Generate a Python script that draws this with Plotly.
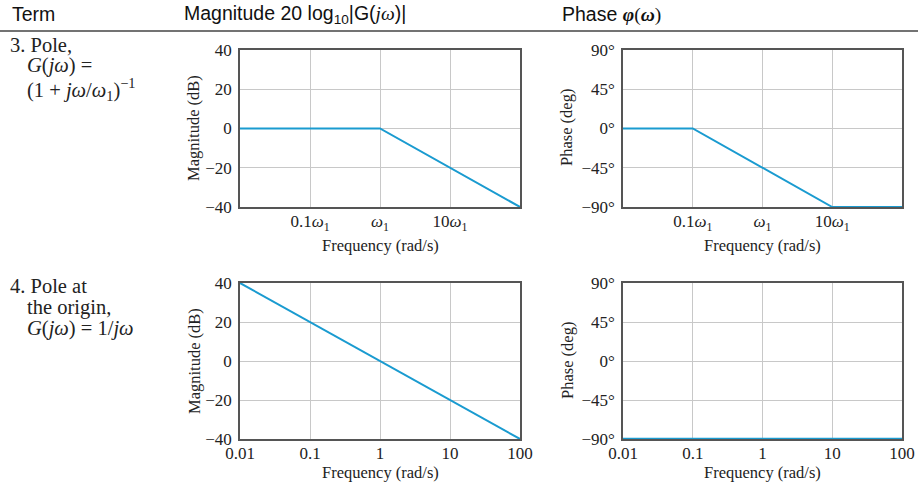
import plotly.graph_objects as go

# Bode asymptotes for two terms
freq_pole = [0.01, 1, 100]
mag_pole = [0, 0, -40]
freq_pole_ph = [0.01, 0.1, 10, 100]
phase_pole = [0, 0, -90, -90]

freq_origin = [0.01, 100]
mag_origin = [40, -40]
phase_origin = [-90, -90]

mag_ticks = [40, 20, 0, -20, -40]
mag_labels = ["40", "20", "0", "\u221220", "\u221240"]
phase_ticks = [90, 45, 0, -45, -90]
phase_labels = ["90°", "45°", "0°", "\u221245°", "\u221290°"]

freq_ticks_w1 = [0.1, 1, 10]
freq_labels_w1 = ["0.1<i>ω</i><sub>1</sub>", "<i>ω</i><sub>1</sub>", "10<i>ω</i><sub>1</sub>"]
freq_ticks = [0.01, 0.1, 1, 10, 100]
freq_labels = ["0.01", "0.1", "1", "10", "100"]

W, H = 918, 482
LINE = "#1a9bd0"
SERIF = "Liberation Serif"
SANS = "Liberation Sans"


def px(x):
    return x / W


def py(y):
    return 1 - y / H


fig = go.Figure()

fig.add_trace(go.Scatter(x=freq_pole, y=mag_pole, mode="lines",
                         line=dict(color=LINE, width=2), xaxis="x", yaxis="y"))
fig.add_trace(go.Scatter(x=freq_pole_ph, y=phase_pole, mode="lines",
                         line=dict(color=LINE, width=2), xaxis="x2", yaxis="y2",
                         cliponaxis=False))
fig.add_trace(go.Scatter(x=freq_origin, y=mag_origin, mode="lines",
                         line=dict(color=LINE, width=2), xaxis="x3", yaxis="y3"))
fig.add_trace(go.Scatter(x=freq_origin, y=phase_origin, mode="lines",
                         line=dict(color=LINE, width=2.5), xaxis="x4", yaxis="y4",
                         cliponaxis=False))

left_dom = [px(240), px(520)]
right_dom = [px(623), px(902)]
top_dom = [py(207), py(50)]
bot_dom = [py(439), py(283)]

axis_common = dict(showline=True, mirror=True, linecolor="#555555", linewidth=1.5,
                   showgrid=True, gridcolor="#c8c8c8", gridwidth=1, zeroline=False,
                   tickfont=dict(family=SERIF, size=17, color="#222222"),
                   ticks="", fixedrange=True, automargin=False)


def xax(dom, anchor, vals, labels):
    return dict(axis_common, type="log", range=[-2, 2], domain=dom, anchor=anchor,
                tickvals=vals, ticktext=labels, ticklabelstandoff=-2)


def yax(dom, anchor, vals, labels, rng):
    return dict(axis_common, range=rng, domain=dom, anchor=anchor,
                tickvals=vals, ticktext=labels, ticklabelstandoff=3)


fig.update_layout(
    width=W, height=H,
    margin=dict(l=0, r=0, t=0, b=0),
    paper_bgcolor="white", plot_bgcolor="white",
    showlegend=False,
    xaxis=xax(left_dom, "y", freq_ticks_w1, freq_labels_w1),
    yaxis=yax(top_dom, "x", mag_ticks, mag_labels, [-40, 40]),
    xaxis2=xax(right_dom, "y2", freq_ticks_w1, freq_labels_w1),
    yaxis2=yax(top_dom, "x2", phase_ticks, phase_labels, [-90, 90]),
    xaxis3=xax(left_dom, "y3", freq_ticks, freq_labels),
    yaxis3=yax(bot_dom, "x3", mag_ticks, mag_labels, [-40, 40]),
    xaxis4=xax(right_dom, "y4", freq_ticks, freq_labels),
    yaxis4=yax(bot_dom, "x4", phase_ticks, phase_labels, [-90, 90]),
)

# header row and rule
fig.add_shape(type="line", xref="paper", yref="paper",
              x0=0, x1=1, y0=py(31), y1=py(31),
              line=dict(color="#444444", width=1.5))

ann = []
hdr_font = dict(family=SANS, size=19.5, color="#111111")
ann.append(dict(text="Term", x=px(10), y=py(14), xanchor="left", font=hdr_font))
ann.append(dict(text="Magnitude 20 log<sub>10</sub>|G(<span style='font-family:Liberation Serif'><i>jω</i></span>)|",
                x=px(182), y=py(14), xanchor="left", font=hdr_font))
ann.append(dict(text="Phase <span style='font-family:Liberation Serif'><b><i>φ</i></b>(<b><i>ω</i></b>)</span>",
                x=px(560), y=py(14), xanchor="left", font=hdr_font))

txt_font = dict(family=SERIF, size=20.5, color="#222222")
term_lines = [
    (8, 45, "3. Pole,"),
    (25, 66, "<i>G</i>(<i>jω</i>) ="),
    (25, 89, "(1 + <i>jω</i>/<i>ω</i><sub>1</sub>)<sup>\u22121</sup>"),
    (8, 286, "4. Pole at"),
    (25, 307, "the origin,"),
    (25, 328, "<i>G</i>(<i>jω</i>) = 1/<i>jω</i>"),
]
for x, y, t in term_lines:
    ann.append(dict(text=t, x=px(x), y=py(y), xanchor="left", font=txt_font))

lbl_font = dict(family=SERIF, size=16.5, color="#222222")
for y in (128, 361):
    ann.append(dict(text="Magnitude (dB)", x=px(194), y=py(y), textangle=-90, font=lbl_font))
    ann.append(dict(text="Phase (deg)", x=px(567), y=py(y), textangle=-90, font=lbl_font))
for y in (245, 472):
    ann.append(dict(text="Frequency (rad/s)", x=px(380), y=py(y), font=lbl_font))
    ann.append(dict(text="Frequency (rad/s)", x=px(762), y=py(y), font=lbl_font))

for a in ann:
    a.setdefault("xanchor", "center")
    a.update(xref="paper", yref="paper", yanchor="middle", showarrow=False)
    fig.add_annotation(**a)

# page body has a default margin; drop it so the figure fills the window
fig.write_html("out.html", config={"displayModeBar": False},
               post_script="document.body.style.margin='0';")
